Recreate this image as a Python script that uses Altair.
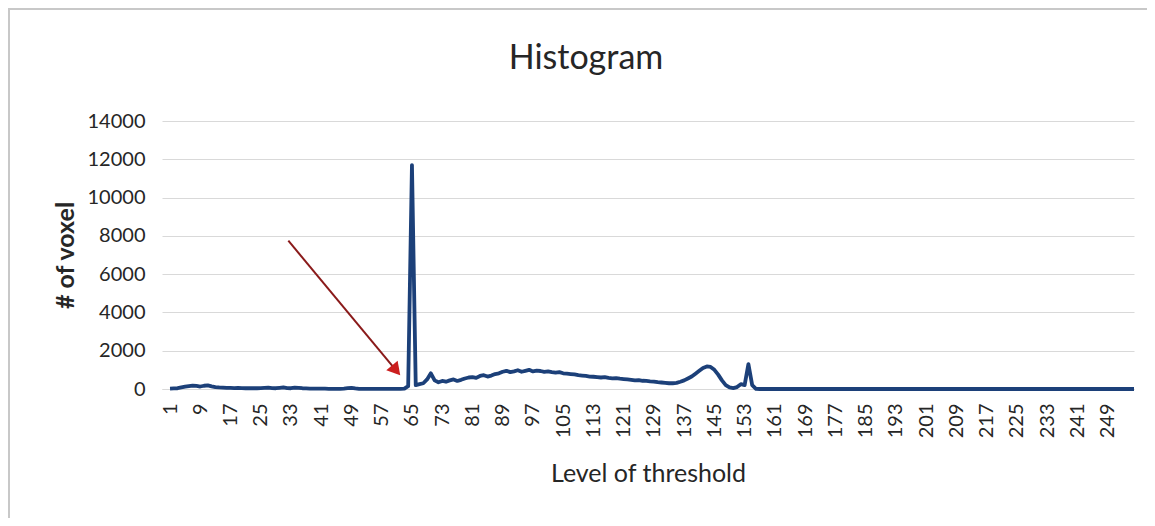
import altair as alt
import pandas as pd

levels = list(range(1, 257))
counts = [
    20, 30, 40, 80, 120, 150, 180, 160, 130, 170, 190, 140, 100, 80, 70, 60,
    60, 50, 60, 50, 40, 50, 40, 40, 50, 60, 70, 50, 40, 60, 80, 50,
    40, 70, 60, 40, 30, 20, 20, 20, 20, 15, 10, 10, 10, 10, 20, 40,
    60, 30, 10, 10, 10, 10, 10, 10, 10, 10, 10, 10, 10, 10, 20, 150,
    11700, 200, 250, 300, 500, 820, 450, 350, 420, 380, 450, 500, 420, 480, 550, 600,
    620, 580, 680, 720, 650, 700, 780, 820, 900, 950, 880, 920, 980, 900, 950, 1000,
    920, 960, 940, 900, 920, 880, 860, 880, 820, 800, 780, 760, 720, 700, 680, 650,
    640, 620, 600, 620, 580, 560, 570, 540, 520, 500, 480, 450, 460, 430, 420, 400,
    390, 360, 340, 320, 300, 300, 320, 380, 450, 550, 650, 800, 950, 1100, 1180, 1150,
    1000, 750, 450, 200, 80, 50, 100, 250, 200, 1300, 200, 10, 0, 0, 0, 0,
    0, 0, 0, 0, 0, 0, 0, 0, 0, 0, 0, 0, 0, 0, 0, 0,
    0, 0, 0, 0, 0, 0, 0, 0, 0, 0, 0, 0, 0, 0, 0, 0,
    0, 0, 0, 0, 0, 0, 0, 0, 0, 0, 0, 0, 0, 0, 0, 0,
    0, 0, 0, 0, 0, 0, 0, 0, 0, 0, 0, 0, 0, 0, 0, 0,
    0, 0, 0, 0, 0, 0, 0, 0, 0, 0, 0, 0, 0, 0, 0, 0,
    0, 0, 0, 0, 0, 0, 0, 0, 0, 0, 0, 0, 0, 0, 0, 0,
]
x_tick_values = list(range(1, 257, 8))
y_tick_values = [0, 2000, 4000, 6000, 8000, 10000, 12000, 14000]

arrow_start_level = [32.3]
arrow_start_count = [7747]
arrow_end_level = [60.8]
arrow_end_count = [972]

title_text = "Histogram"

df = pd.DataFrame({"level": levels, "count": counts})
arrow_df = pd.DataFrame({
    "x": arrow_start_level, "y": arrow_start_count,
    "x2": arrow_end_level, "y2": arrow_end_count,
})

FONT = "Lato"
x_scale = alt.Scale(domain=[-1.12, 256], nice=False, zero=False)
y_scale = alt.Scale(domain=[0, 14000], nice=False)

x_axis = alt.Axis(values=x_tick_values, labelAngle=-90, grid=False,
                  ticks=False, domain=True, domainColor="#d9d9d9",
                  labelPadding=14, titlePadding=24,
                  labelOverlap=False, labelFlush=False,
                  title="Level of threshold", titleFontWeight="normal")
y_axis = alt.Axis(values=y_tick_values, grid=True, gridColor="#d9d9d9",
                  ticks=False, domain=False, labelPadding=17,
                  labelOverlap=False, format="d",
                  titlePadding=9, title="# of voxel",
                  titleFontWeight="bold")

frame = alt.Chart(pd.DataFrame({"k": [0]})).mark_rect(
    fillOpacity=0, stroke="#c8c8c8", strokeWidth=2, clip=False
).encode(
    x=alt.value(-153), x2=alt.value(1300), y=alt.value(-112), y2=alt.value(700)
)

title = alt.Chart(pd.DataFrame({"t": [title_text]})).mark_text(
    font=FONT, fontSize=34, color="#262626", align="center",
    baseline="alphabetic", clip=False
).encode(
    text="t:N", x=alt.value(424), y=alt.value(-52)
)

line = alt.Chart(df).mark_line(
    color="#1c4079", strokeWidth=3.8, strokeJoin="round"
).encode(
    x=alt.X("level:Q", scale=x_scale, axis=x_axis),
    y=alt.Y("count:Q", scale=y_scale, axis=y_axis),
)

rule = alt.Chart(arrow_df).mark_rule(color="#8a1a1a", strokeWidth=2).encode(
    x=alt.X("x:Q", scale=x_scale, axis=x_axis),
    y=alt.Y("y:Q", scale=y_scale, axis=y_axis),
    x2="x2:Q", y2="y2:Q",
)

head = alt.Chart(arrow_df).mark_point(
    shape="triangle-up", filled=True, color="#cc1f1f", size=220, angle=140, opacity=1
).encode(
    x=alt.X("x2:Q", scale=x_scale, axis=x_axis),
    y=alt.Y("y2:Q", scale=y_scale, axis=y_axis),
)

chart = alt.layer(frame, title, line, rule, head).properties(
    width=972, height=268,
    padding={"left": 154, "top": 113, "right": 13, "bottom": 129},
    autosize=alt.AutoSizeParams(type="none"),
).configure_view(stroke=None).configure_axis(
    labelFont=FONT, labelFontSize=20, labelColor="#262626",
    titleFont=FONT, titleFontSize=25, titleColor="#262626",
)

chart.save("out.html", embed_options={"renderer": "svg", "actions": False})
